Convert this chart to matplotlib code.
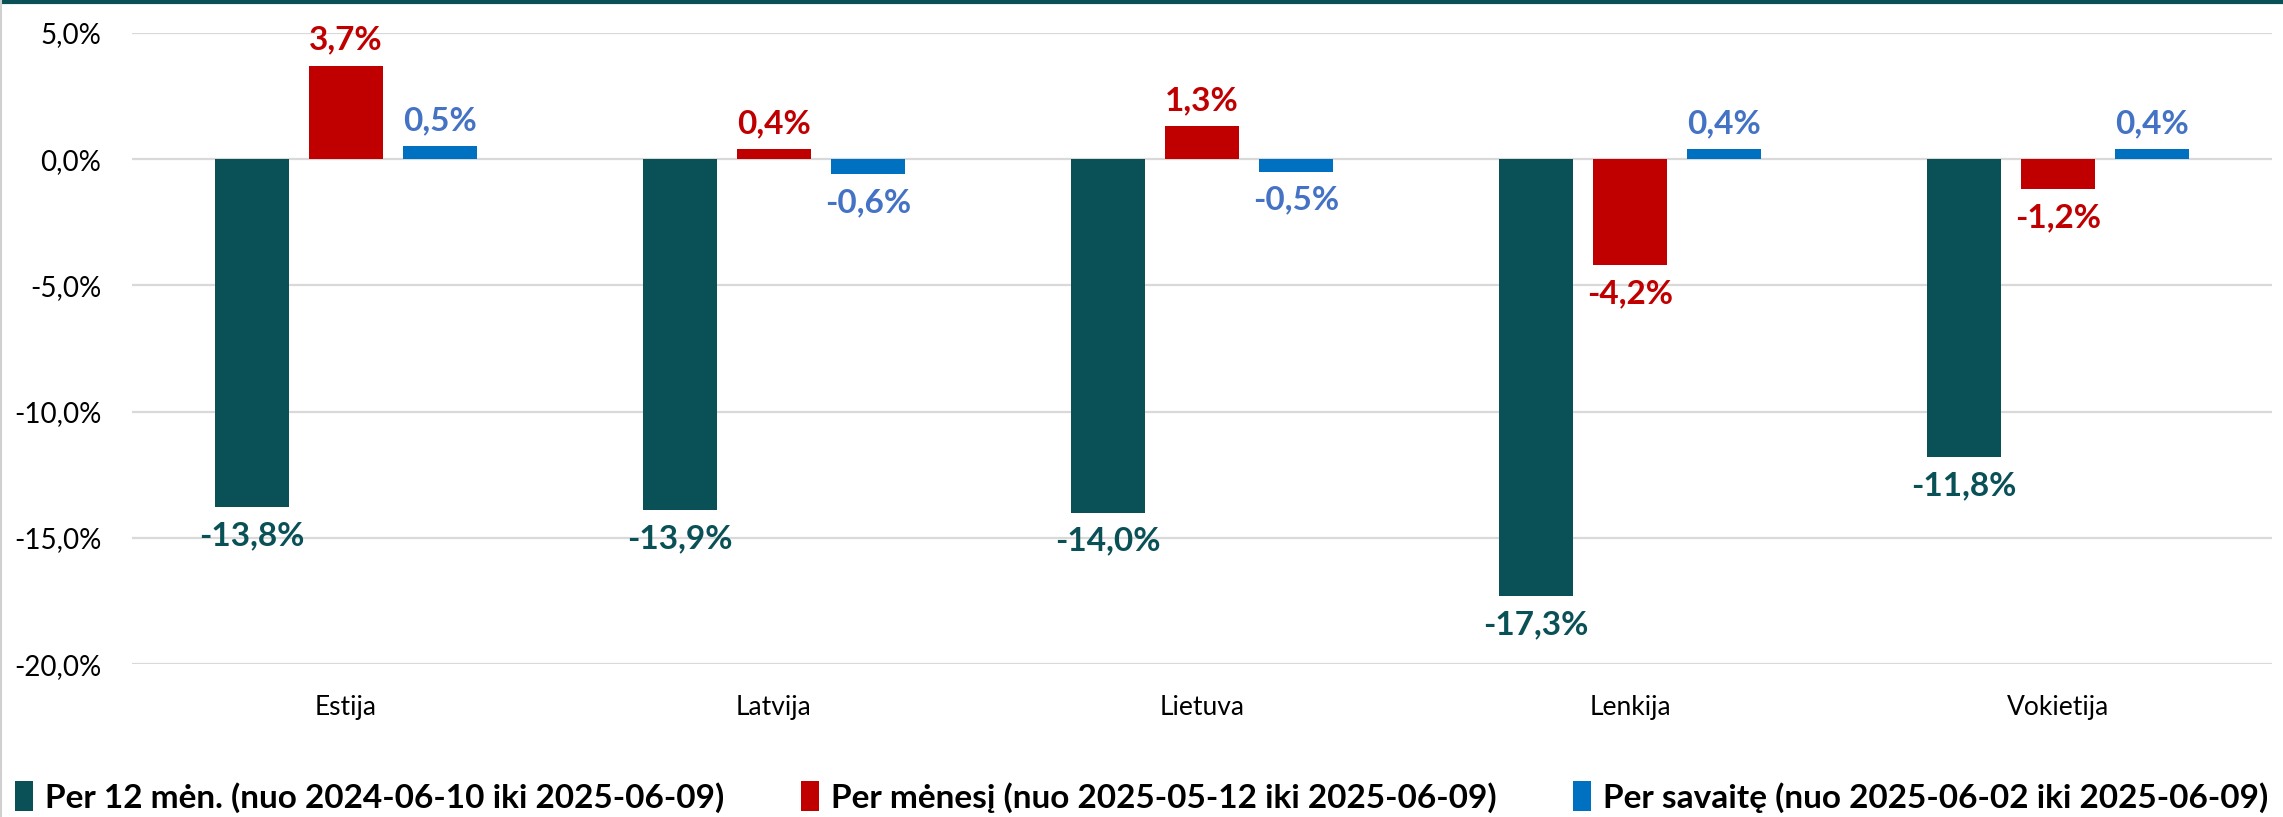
import numpy as np
import matplotlib
matplotlib.use('Agg')
from matplotlib import pyplot as plt
from matplotlib.lines import Line2D

# duomenys
salys = ['Estija', 'Latvija', 'Lietuva', 'Lenkija', 'Vokietija']
per_12_men = [-13.8, -13.9, -14.0, -17.3, -11.8]
per_menesi = [3.7, 0.4, 1.3, -4.2, -1.2]
per_savaite = [0.5, -0.6, -0.5, 0.4, 0.4]
serijos = ['Per 12 mėn. (nuo 2024-06-10 iki 2025-06-09)',
           'Per mėnesį (nuo 2025-05-12 iki 2025-06-09)',
           'Per savaitę (nuo 2025-06-02 iki 2025-06-09)']
y_ticks = [5, 0, -5, -10, -15, -20]

bar_colors = ['#0A5057', '#C00000', '#0070C0']
label_colors = ['#0A5057', '#C00000', '#4472C4']

plt.rcParams['font.family'] = ['Lato', 'DejaVu Sans']

fig = plt.figure(figsize=(22.83, 8.171), dpi=100)
ax = fig.add_axes([132 / 2283, 1 - 664 / 817, (2272 - 132) / 2283, (664 - 33) / 817])

x = np.arange(len(salys))
w = 0.173
step = 0.22
for i, vals in enumerate([per_12_men, per_menesi, per_savaite]):
    pos = x + (i - 1) * step
    ax.bar(pos, vals, width=w, color=bar_colors[i], label=serijos[i], zorder=3)
    for p, v in zip(pos, vals):
        txt = ('%.1f%%' % v).replace('.', ',')
        if v >= 0:
            ax.annotate(txt, (p, v), xytext=(0, 8), textcoords='offset points',
                        ha='center', va='bottom', color=label_colors[i],
                        fontsize=24, fontweight='bold')
        else:
            ax.annotate(txt, (p, v), xytext=(0, -10), textcoords='offset points',
                        ha='center', va='top', color=label_colors[i],
                        fontsize=24, fontweight='bold')

ax.set_xlim(-0.5, len(salys) - 0.5)
ax.set_ylim(-20, 5)
ax.set_yticks(y_ticks)
ax.set_yticklabels([('%.1f%%' % t).replace('.', ',') for t in y_ticks], fontsize=20)
ax.set_xticks(x)
ax.set_xticklabels(salys, fontsize=19)
ax.tick_params(axis='both', length=0)
ax.tick_params(axis='y', pad=22)
ax.tick_params(axis='x', pad=22)
ax.grid(axis='y', color='#D9D9D9', linewidth=1.6, zorder=0)
for s in ax.spines.values():
    s.set_visible(False)

fig.legend(loc='center', bbox_to_anchor=(0.5, 1 - 797 / 817), ncol=3,
           frameon=False, handlelength=0.55, handleheight=1.0, handletextpad=0.35,
           columnspacing=2.3,
           prop={'family': ['Lato', 'DejaVu Sans'], 'weight': 'bold', 'size': 24})

# remelis: tamsi linija virsuje, pilka kaireje
fig.add_artist(Line2D([0, 1], [0.998, 0.998], transform=fig.transFigure,
                      color='#0A5057', linewidth=3))
fig.add_artist(Line2D([0.0004, 0.0004], [0, 1], transform=fig.transFigure,
                      color='#D0D0D0', linewidth=1.5))

fig.savefig('out.png', dpi=100)
